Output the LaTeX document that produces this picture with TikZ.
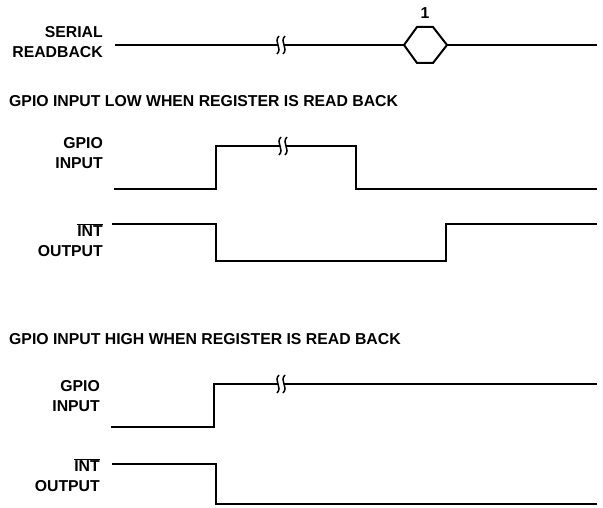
\documentclass[tikz,border=0pt]{standalone}
\usepackage{fontspec}
\setmainfont{Liberation Sans}
\usepackage{tikz}
\usetikzlibrary{positioning,calc}

\begin{document}
\begin{tikzpicture}[x=1pt, y=-1pt,
    wave/.style={line width=2pt},
    brk/.style={line width=1.5pt},
    lbl/.style={anchor=east, align=right, inner sep=0pt,
        font=\bfseries\fontsize{15.8}{19.5}\selectfont},
    head/.style={anchor=west, inner sep=0pt,
        font=\bfseries\fontsize{15.8}{19.5}\selectfont}]
    \useasboundingbox (0,0) rectangle (603,508);

    % Serial readback
    \node[lbl] (serial) at (103,42) {SERIAL\\READBACK};
    \draw[wave] (115,45) -- (597,45);
    \draw[wave, fill=white] (404,45) -- (417,27) -- (433,27) -- (447,45)
        -- (433,63) -- (417,63) -- cycle;
    \node[head, anchor=center] (mark1) at (425,13) {1};

    % GPIO input low when register is read back
    \node[head] (lowhead) at (9,101) {GPIO INPUT LOW WHEN REGISTER IS READ BACK};
    \node[lbl] (lowgpio) at (103,153) {GPIO\\INPUT};
    \draw[wave] (114,189) -- (216,189) -- (216,146) -- (356,146)
        -- (356,189) -- (597,189);
    \node[lbl] (lowint) at (103,240) {$\overline{\mbox{INT}}$\\OUTPUT};
    \draw[wave] (112,224) -- (216,224) -- (216,261) -- (446,261)
        -- (446,224) -- (597,224);

    % GPIO input high when register is read back
    \node[head] (highhead) at (9,339) {GPIO INPUT HIGH WHEN REGISTER IS READ BACK};
    \node[lbl] (highgpio) at (100,396) {GPIO\\INPUT};
    \draw[wave] (111,427) -- (214,427) -- (214,384) -- (597,384);
    \node[lbl] (highint) at (100,475) {$\overline{\mbox{INT}}$\\OUTPUT};
    \draw[wave] (112,464) -- (216,464) -- (216,504) -- (597,504);

    % Time breaks
    \foreach \bx/\by in {281/45, 283/146, 281/384} {
        \fill[white] (\bx-3,\by-2) rectangle (\bx+3,\by+2);
        \foreach \dx in {-3,3}
            \draw[brk] (\bx+\dx+1,\by-9) .. controls (\bx+\dx-5,\by-3)
                and (\bx+\dx+5,\by+3) .. (\bx+\dx-1,\by+9);
    }
\end{tikzpicture}
\end{document}
